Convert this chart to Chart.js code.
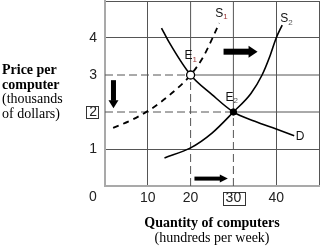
<!DOCTYPE html>
<html>
<head>
<meta charset="utf-8">
<script src="https://cdn.jsdelivr.net/npm/chart.js@4/dist/chart.umd.min.js"></script>
<style>
  html, body { margin: 0; padding: 0; background: #fff; }
  #c { display: block; }
</style>
</head>
<body>
<canvas id="c" width="320" height="247"></canvas>
<script>
// ---- data ----
const xTickValues = [0, 10, 20, 30, 40, 50];
const xTickLabels = ['', '10', '20', '30', '40', ''];
const yTickValues = [0, 1, 2, 3, 4, 5];
const yTickLabels = ['', '1', '2', '3', '4', ''];
const originLabel = '0';
const boxedXTick = 30;
const boxedYTick = 2;

const demandQ = [13.2, 15, 20, 25, 30, 35, 40, 44.2];
const demandP = [4.27, 3.88, 3.0, 2.47, 2.0, 1.75, 1.54, 1.36];
const supply1Q = [1.9, 6.5, 11, 15, 20, 23, 26.7];
const supply1P = [1.57, 1.8, 2.1, 2.45, 3.0, 3.5, 4.4];
const supply2Q = [13.9, 20, 25, 30, 34.1, 36.7, 38.5, 40, 41.4];
const supply2P = [0.76, 1.03, 1.43, 2.0, 2.5, 3.0, 3.5, 4.0, 4.35];

const eqNames = ['E1', 'E2'];
const eqQ = [20, 30];
const eqP = [3, 2];

const curveLabels = ['S', 'S', 'E', 'E', 'D'];
const curveSubs = ['1', '2', '1', '2', ''];
const curveLabelQ = [26.7, 41.9, 19.5, 29.1, 45.6];
const curveLabelP = [4.67, 4.51, 3.51, 2.40, 1.34];

const arrowFromQ = [27.7, 1.98, 20.9];
const arrowFromP = [3.63, 2.86, 0.20];
const arrowToQ = [35.65, 1.98, 28.7];
const arrowToP = [3.63, 2.10, 0.20];

const yTitle = ['Price per', 'computer', '(thousands', 'of dollars)'];
const xTitle = ['Quantity of computers', '(hundreds per week)'];

const X_MAX = 50, Y_MAX = 5;

// ---- styles ----
const GRID = '#555555';
const AXIS = '#a9a9a9';
const TICK_FONT = { family: '"Liberation Sans", Arial, sans-serif', size: 14 };
const arrowStyle = [
  { shaft: 6, headW: 12, headL: 9 },
  { shaft: 5, headW: 10, headL: 8 },
  { shaft: 4, headW: 8, headL: 8 }
];

const pts = (qs, ps) => qs.map((q, i) => ({ x: q, y: ps[i] }));

const datasets = [];
// dashed guide lines & solid grid remainder
eqQ.forEach((q, i) => {
  const p = eqP[i];
  datasets.push({ data: [{x:0,y:p},{x:q,y:p}], borderColor: GRID, borderWidth: 1, borderDash: [8,4], pointRadius: 0, showLine: true, order: 10 });
  datasets.push({ data: [{x:q,y:0},{x:q,y:p}], borderColor: GRID, borderWidth: 1, borderDash: [8,4], pointRadius: 0, showLine: true, order: 10 });
  datasets.push({ data: [{x:q,y:p},{x:X_MAX,y:p}], borderColor: GRID, borderWidth: 1, pointRadius: 0, showLine: true, order: 10 });
  datasets.push({ data: [{x:q,y:p},{x:q,y:Y_MAX}], borderColor: GRID, borderWidth: 1, pointRadius: 0, showLine: true, order: 10 });
});
datasets.push({ data: pts(supply1Q, supply1P), borderColor: '#000', borderWidth: 1.8, borderDash: [6,5], pointRadius: 0, showLine: true, cubicInterpolationMode: 'monotone', order: 5 });
datasets.push({ data: pts(supply2Q, supply2P), borderColor: '#000', borderWidth: 1.6, pointRadius: 0, showLine: true, cubicInterpolationMode: 'monotone', order: 5 });
datasets.push({ data: pts(demandQ, demandP), borderColor: '#000', borderWidth: 1.6, pointRadius: 0, showLine: true, cubicInterpolationMode: 'monotone', order: 5 });
datasets.push({ data: [{x:eqQ[0], y:eqP[0]}], pointRadius: 4, pointBackgroundColor: '#fff', pointBorderColor: '#000', pointBorderWidth: 1.3, showLine: false, order: 1 });
datasets.push({ data: [{x:eqQ[1], y:eqP[1]}], pointRadius: 3.2, pointBackgroundColor: '#000', pointBorderColor: '#000', pointBorderWidth: 1, showLine: false, order: 1 });

const labelFor = (vals, labels) => (v) => { const i = vals.indexOf(v); return i >= 0 ? labels[i] : ''; };

const extras = {
  id: 'extras',
  afterDatasetsDraw(chart) {
    const c = chart.ctx, xs = chart.scales.x, ys = chart.scales.y;
    c.save();
    // arrows
    arrowFromQ.forEach((q, i) => {
      const x1 = xs.getPixelForValue(q), y1 = ys.getPixelForValue(arrowFromP[i]);
      const x2 = xs.getPixelForValue(arrowToQ[i]), y2 = ys.getPixelForValue(arrowToP[i]);
      const st = arrowStyle[i];
      const ang = Math.atan2(y2 - y1, x2 - x1);
      const len = Math.hypot(x2 - x1, y2 - y1);
      c.save();
      c.translate(x1, y1); c.rotate(ang);
      c.fillStyle = '#000';
      c.fillRect(0, -st.shaft / 2, len - st.headL + 0.5, st.shaft);
      c.beginPath();
      c.moveTo(len, 0);
      c.lineTo(len - st.headL, -st.headW / 2);
      c.lineTo(len - st.headL, st.headW / 2);
      c.closePath(); c.fill();
      c.restore();
    });
    // curve labels
    c.textBaseline = 'middle';
    curveLabels.forEach((t, i) => {
      const x = xs.getPixelForValue(curveLabelQ[i]), y = ys.getPixelForValue(curveLabelP[i]);
      c.font = '12px "Liberation Sans", Arial, sans-serif';
      c.fillStyle = '#111';
      c.textAlign = 'center';
      c.fillText(t, x, y);
      if (curveSubs[i]) {
        const w = c.measureText(t).width;
        c.font = '8px "Liberation Sans", Arial, sans-serif';
        c.fillStyle = curveSubs[i] === '1' ? '#9a3a3a' : '#555';
        c.textAlign = 'left';
        c.fillText(curveSubs[i], x + w / 2, y + 4);
      }
    });
    c.restore();
  },
  afterDraw(chart) {
    const c = chart.ctx, xs = chart.scales.x, ys = chart.scales.y, ca = chart.chartArea;
    c.save();
    c.fillStyle = '#222';
    c.font = '14px "Liberation Sans", Arial, sans-serif';
    // origin label
    c.textAlign = 'center'; c.textBaseline = 'top';
    c.fillText(originLabel, ca.left - 12, ca.bottom + 4);
    // boxes
    c.strokeStyle = '#333'; c.lineWidth = 1;
    {
      const lab = labelFor(yTickValues, yTickLabels)(boxedYTick);
      const w = c.measureText(lab).width;
      const xr = ca.left - 8, yc = ys.getPixelForValue(boxedYTick);
      c.strokeRect(Math.round(xr - w - 3) + 0.5, Math.round(yc - 6) + 0.5, Math.round(w + 4), 12);
    }
    {
      const lab = labelFor(xTickValues, xTickLabels)(boxedXTick);
      const w = c.measureText(lab).width;
      const xc = xs.getPixelForValue(boxedXTick), yt = ca.bottom + 6;
      c.strokeRect(Math.round(xc - w / 2 - 3) + 0.5, Math.round(yt) + 0.5, Math.round(w + 6), 13);
    }
    // y title
    c.fillStyle = '#000';
    c.textAlign = 'left'; c.textBaseline = 'alphabetic';
    const yBase = [74, 88.5, 103, 117.5];
    yTitle.forEach((t, i) => {
      c.font = (i < 2 ? 'bold ' : '') + '14px "Liberation Serif", "Times New Roman", serif';
      c.fillText(t, 2, yBase[i]);
    });
    // x title
    c.textAlign = 'center';
    const xc = (ca.left + ca.right) / 2;
    c.font = 'bold 14px "Liberation Serif", "Times New Roman", serif';
    c.fillText(xTitle[0], xc, ca.bottom + 41);
    c.font = '14px "Liberation Serif", "Times New Roman", serif';
    c.fillText(xTitle[1], xc, ca.bottom + 56);
    c.restore();
  }
};

new Chart(document.getElementById('c'), {
  type: 'scatter',
  data: { datasets },
  options: {
    responsive: false,
    animation: false,
    events: [],
    layout: { autoPadding: false, padding: { left: 0, right: 1, top: 1, bottom: 0 } },
    plugins: { legend: { display: false }, tooltip: { enabled: false } },
    scales: {
      x: {
        type: 'linear', min: 0, max: X_MAX,
        afterBuildTicks: s => { s.ticks = xTickValues.map(v => ({ value: v })); },
        afterFit: s => { s.height = 61; s.paddingLeft = 0; s.paddingRight = 0; },
        ticks: { callback: labelFor(xTickValues, xTickLabels), font: TICK_FONT, color: '#222', padding: 4, maxRotation: 0, autoSkip: false },
        grid: { color: ctx => (ctx.tick && (eqQ.includes(ctx.tick.value) || ctx.tick.value === 0)) ? 'rgba(0,0,0,0)' : GRID, lineWidth: 1, drawTicks: false },
        border: { display: true, color: AXIS, width: 2 }
      },
      y: {
        type: 'linear', min: 0, max: Y_MAX,
        afterBuildTicks: s => { s.ticks = yTickValues.map(v => ({ value: v })); },
        afterFit: s => { s.width = 105; s.paddingTop = 0; s.paddingBottom = 0; },
        ticks: { callback: labelFor(yTickValues, yTickLabels), font: TICK_FONT, color: '#222', padding: 8, autoSkip: false },
        grid: { color: ctx => (ctx.tick && (eqP.includes(ctx.tick.value) || ctx.tick.value === 0)) ? 'rgba(0,0,0,0)' : GRID, lineWidth: 1, drawTicks: false },
        border: { display: true, color: AXIS, width: 2 }
      }
    }
  },
  plugins: [extras]
});
</script>
</body>
</html>
